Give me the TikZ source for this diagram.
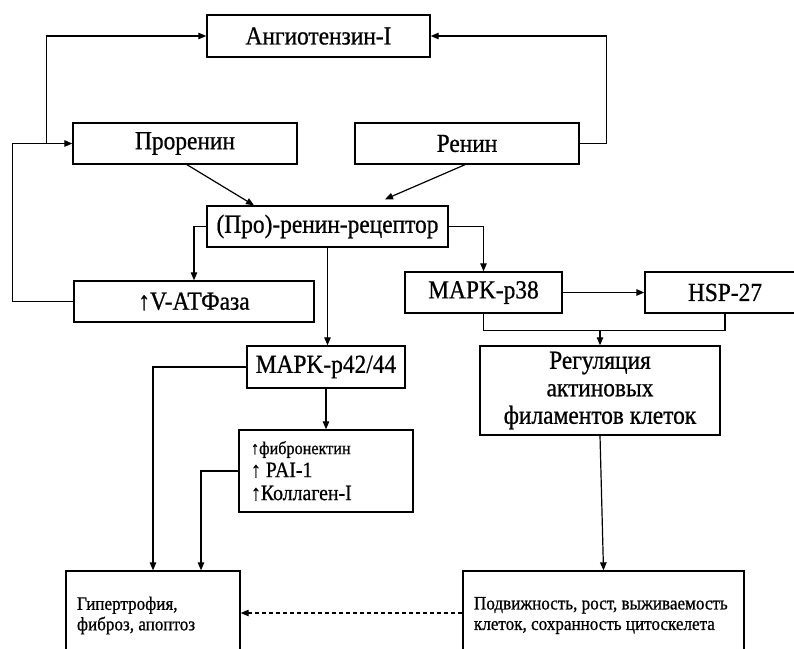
\documentclass[tikz,border=0pt]{standalone}
\usepackage{fontspec}
\setmainfont{Liberation Serif}[FakeStretch=0.9,FakeBold=0.7]
\usetikzlibrary{arrows.meta,calc}

\tikzset{
  blk/.style={draw, line width=1.4pt, inner sep=0pt, minimum height=41pt, font=\fontsize{26}{30}\selectfont},
  arr/.style={line width=1.2pt, -{Triangle[length=8pt,width=6.5pt]}},
  ln/.style={line width=1.2pt},
}

\begin{document}
\begin{tikzpicture}[x=1pt,y=-1pt]
        \clip (0,0) rectangle (794,648);
        \fill[white] (0,0) rectangle (794,648);
        % upper row
        \node[blk, minimum width=223pt, minimum height=42pt] (ang) at (318.5,36) {Ангиотензин-I};
        \node[blk, minimum width=224pt] (pro) at (185,143.5) {Проренин};
        \node[blk, minimum width=224pt] (ren) at (467,143.5) {Ренин};
        \node[blk, minimum width=241pt] (rec) at (327.5,226.5) {(Про)-ренин-рецептор};
        % middle row
        \node[blk, minimum width=240pt] (atf) at (194,301.5) {↑V-АТФаза};
        \node[blk, minimum width=157pt] (p38) at (483.5,292.5) {MAPK-p38};
        \node[blk, minimum width=160pt] (hsp) at (725,292.5) {HSP-27};
        \node[blk, minimum width=158pt, minimum height=42pt] (p42) at (326,367) {MAPK-p42/44};
        \node[blk, minimum width=240pt, minimum height=89pt, align=center, font=\fontsize{26}{27.5}\selectfont] (reg) at (600,390.5) {Регуляция\\актиновых\\филаментов клеток};
        \node[blk, minimum width=174pt, minimum height=82pt, text width=150pt, inner xsep=12pt, align=flush left, font=\fontsize{22}{23}\selectfont] (fib) at (326,471) {{\fontsize{18}{22}\selectfont ↑фибронектин}\\↑ PAI-1\\↑Коллаген-I};
        % bottom row (cut by the frame)
        \node[blk, minimum width=174pt, minimum height=89pt, text width=152pt, inner xsep=11pt, align=flush left, font=\fontsize{19}{20.5}\selectfont] (hyp) at (153,615.5) {Гипертрофия,\\фиброз, апоптоз};
        \node[blk, minimum width=281pt, minimum height=89pt, text width=259pt, inner xsep=11pt, align=flush left, font=\fontsize{19}{20.5}\selectfont] (mob) at (603.5,615.5) {Подвижность, рост, выживаемость\\клеток, сохранность цитоскелета};
        % loops to the top
        \draw[arr] (atf.west) -- ++(-61,0) |- (pro.west);
        \draw[arr] ([xshift=-26pt]pro.west) |- (ang.west);
        \draw[arr] (ren.east) -- ++(27,0) |- (ang.east);
        % into the receptor
        \draw[arr] ([xshift=2pt]pro.south) -- ([xshift=-73.5pt]rec.north);
        \draw[arr] ([xshift=-2pt]ren.south) -- ($(rec.north)+(57.5,-6)$);
        % out of the receptor
        \draw[arr] (rec.west) -| (atf.north);
        \draw[arr] (rec.south) -- (rec.south |- p42.north);
        \draw[arr] (rec.east) -| (p38.north);
        \draw[arr] (p38.east) -- (hsp.west);
        \draw[ln] (p38.south) -- ++(0,17) coordinate (jn) -| (hsp.south);
        \draw[arr] (reg.north |- jn) -- (reg.north);
        % down to the bottom row
        \draw[arr] (p42.west) -| (hyp.north);
        \draw[arr] (p42.south) -- (fib.north);
        \draw[arr] (fib.west) -| ([xshift=48pt]hyp.north);
        \draw[arr] (reg.south) -- (mob.north);
        \draw[arr, dash pattern=on 4pt off 3pt] ([yshift=2.5pt]mob.west) -- ([yshift=2.5pt]hyp.east);
\end{tikzpicture}
\end{document}
